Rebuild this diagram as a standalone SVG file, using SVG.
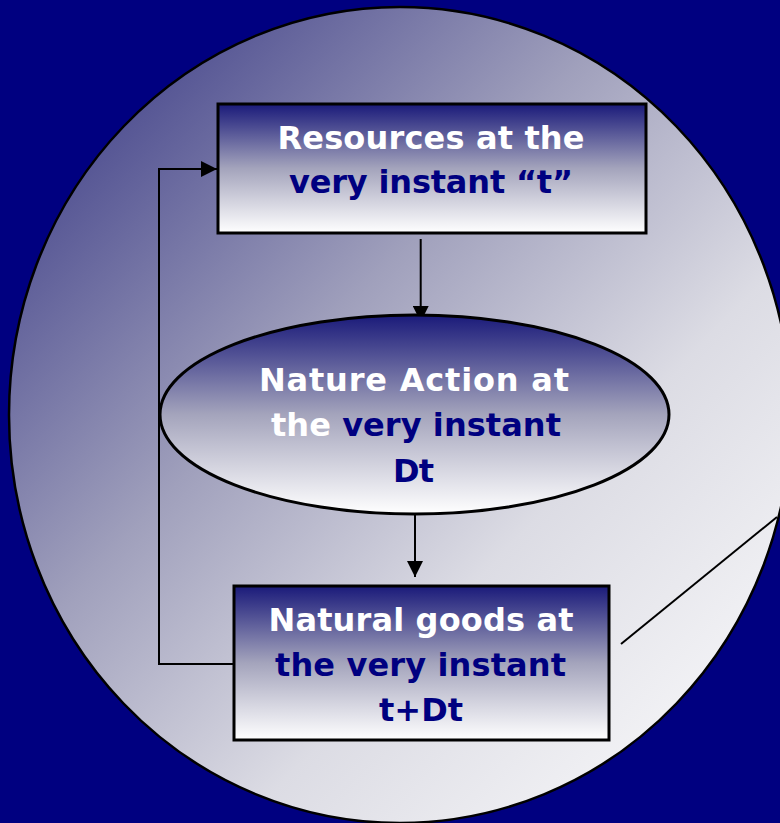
<svg xmlns="http://www.w3.org/2000/svg" width="780" height="823" viewBox="0 0 780 823">
  <defs>
    <linearGradient id="discFill" x1="0" y1="0" x2="1" y2="1">
      <stop offset="0" stop-color="#2c2c7e"/>
      <stop offset="0.4" stop-color="#a0a0bc"/>
      <stop offset="0.65" stop-color="#dcdce4"/>
      <stop offset="1" stop-color="#ffffff"/>
    </linearGradient>
    <linearGradient id="nodeFill" x1="0" y1="0" x2="0" y2="1">
      <stop offset="0" stop-color="#1a1a7a"/>
      <stop offset="0.5" stop-color="#a4a4bc"/>
      <stop offset="1" stop-color="#ffffff"/>
    </linearGradient>
    <marker id="arrow" markerUnits="userSpaceOnUse" markerWidth="16" markerHeight="16" refX="16" refY="8" orient="auto">
      <path d="M0,0 L16,8 L0,16 z" fill="#000"/>
    </marker>
    <style>
      .node { fill: url(#nodeFill); stroke: #000; stroke-width: 3; }
      .link { fill: none; stroke: #000; stroke-width: 2; }
      .label { font-family: "DejaVu Sans", sans-serif; font-weight: bold; font-size: 32px; text-anchor: middle; }
      .w { fill: #ffffff; }
      .n { fill: #000080; }
    </style>
  </defs>

  <rect width="780" height="823" fill="#000080"/>

  <g id="disc">
    <ellipse cx="400" cy="415" rx="391" ry="408" fill="url(#discFill)" stroke="#000" stroke-width="2.5"/>
  </g>

  <g id="connectors">
    <line class="link" x1="420.7" y1="239" x2="420.7" y2="322" marker-end="url(#arrow)"/>
    <line class="link" x1="415" y1="514" x2="415" y2="577" marker-end="url(#arrow)"/>
    <polyline class="link" points="235,664 159,664 159,169 217,169" marker-end="url(#arrow)"/>
    <line class="link" x1="621" y1="644" x2="777" y2="517"/>
  </g>

  <g id="resources">
    <rect class="node" x="218" y="104" width="428" height="129"/>
    <text class="label w" x="431" y="149" textLength="307" lengthAdjust="spacing">Resources at the</text>
    <text class="label n" x="431" y="193" textLength="284" lengthAdjust="spacing">very instant “t”</text>
  </g>

  <g id="nature-action">
    <ellipse class="node" cx="414.5" cy="414.5" rx="254.5" ry="99.5"/>
    <text class="label w" x="414" y="390.5" textLength="310" lengthAdjust="spacing">Nature Action at</text>
    <text class="label" x="416" y="436" textLength="290" lengthAdjust="spacing"><tspan class="w">the </tspan><tspan class="n">very instant</tspan></text>
    <text class="label n" x="413.5" y="481.5" textLength="41" lengthAdjust="spacing">Dt</text>
  </g>

  <g id="natural-goods">
    <rect class="node" x="234" y="586" width="375" height="154"/>
    <text class="label w" x="421" y="630.5" textLength="305" lengthAdjust="spacing">Natural goods at</text>
    <text class="label n" x="420.5" y="676" textLength="291" lengthAdjust="spacing">the very instant</text>
    <text class="label n" x="421" y="720.5" textLength="84" lengthAdjust="spacing">t+Dt</text>
  </g>
</svg>
